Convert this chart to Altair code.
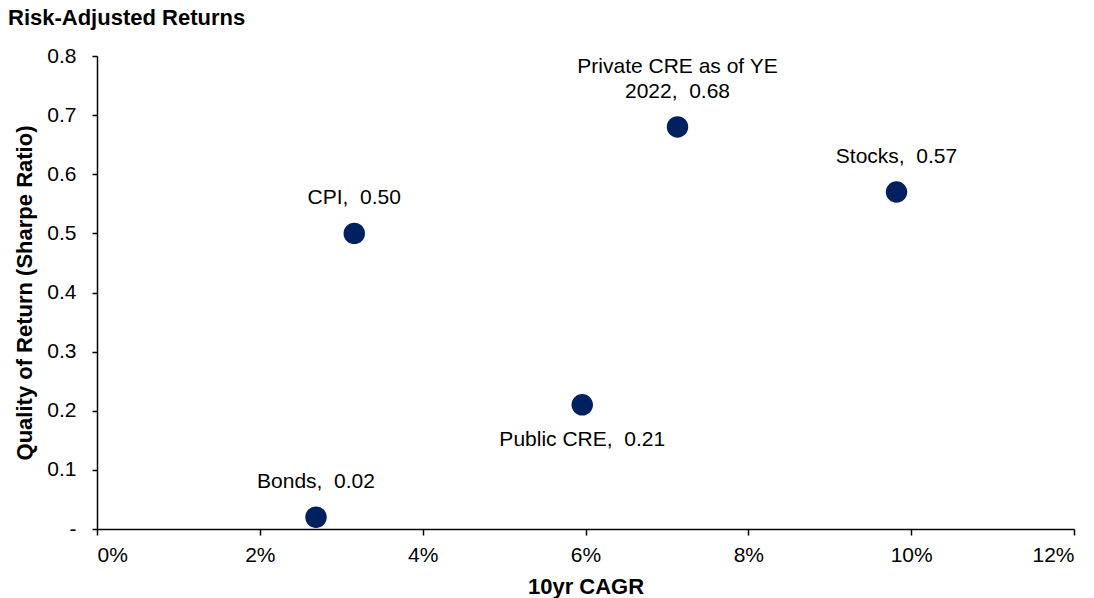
import altair as alt
import pandas as pd

names = ["Bonds", "CPI", "Public CRE", "Private CRE as of YE\n2022", "Stocks"]
cagr = [0.0269, 0.0316, 0.0596, 0.0713, 0.0982]
sharpe = [0.02, 0.50, 0.21, 0.68, 0.57]
x_ticks = [0, 0.02, 0.04, 0.06, 0.08, 0.10, 0.12]
y_ticks = [0, 0.1, 0.2, 0.3, 0.4, 0.5, 0.6, 0.7, 0.8]

df = pd.DataFrame({"name": names, "cagr": cagr, "sharpe": sharpe})
df["label"] = [f"{n},\u00a0 {v:.2f}" for n, v in zip(names, sharpe)]

FONT = "Liberation Sans"
FS = 21
below_names = ["Public CRE"]
multi_names = [n for n in names if "\n" in n]

x = alt.X("cagr:Q", scale=alt.Scale(domain=[0, 0.12], nice=False),
          axis=alt.Axis(values=x_ticks, format=".0%", title="10yr CAGR", grid=False,
                        tickSize=6, labelPadding=9, titlePadding=11))
y = alt.Y("sharpe:Q", scale=alt.Scale(domain=[0, 0.8], nice=False),
          axis=alt.Axis(values=y_ticks, grid=False, title="Quality of Return (Sharpe Ratio)",
                        labelExpr="datum.value == 0 ? '-' : format(datum.value, '.1f')",
                        tickSize=5, labelPadding=16, titlePadding=10))

base = alt.Chart(df)
points = base.mark_circle(size=460, opacity=1, color="#002060").encode(x=x, y=y)

above = base.transform_filter(
    alt.FieldOneOfPredicate(field="name", oneOf=[n for n in names if n not in below_names and n not in multi_names])
).mark_text(font=FONT, fontSize=FS, color="#000000", dy=-35, baseline="middle", align="center").encode(
    x="cagr:Q", y="sharpe:Q", text="label:N")

below = base.transform_filter(
    alt.FieldOneOfPredicate(field="name", oneOf=below_names)
).mark_text(font=FONT, fontSize=FS, color="#000000", dy=35, baseline="middle", align="center").encode(
    x="cagr:Q", y="sharpe:Q", text="label:N")

multi = base.transform_filter(
    alt.FieldOneOfPredicate(field="name", oneOf=multi_names)
).mark_text(font=FONT, fontSize=FS, color="#000000", dy=-60, baseline="middle", align="center",
            lineBreak="\n", lineHeight=25).encode(
    x="cagr:Q", y="sharpe:Q", text="label:N")

chart = alt.layer(points, above, below, multi).properties(
    width=977, height=473,
    autosize=alt.AutoSizeParams(type="none"),
    padding={"left": 97, "top": 56, "right": 20, "bottom": 69},
    title=alt.TitleParams("Risk-Adjusted Returns", anchor="start", frame="group", dx=-89,
                          offset=15, font=FONT, fontSize=22, fontWeight="bold", color="#000000"),
).configure_view(stroke=None).configure_axis(
    domainColor="#000000", domainWidth=1.5, tickColor="#000000", tickWidth=1.5,
    labelFont=FONT, labelFontSize=FS, labelColor="#000000",
    titleFont=FONT, titleFontSize=22, titleFontWeight="bold", titleColor="#000000",
)

chart.save("out.html", embed_options={"renderer": "svg", "actions": False})
